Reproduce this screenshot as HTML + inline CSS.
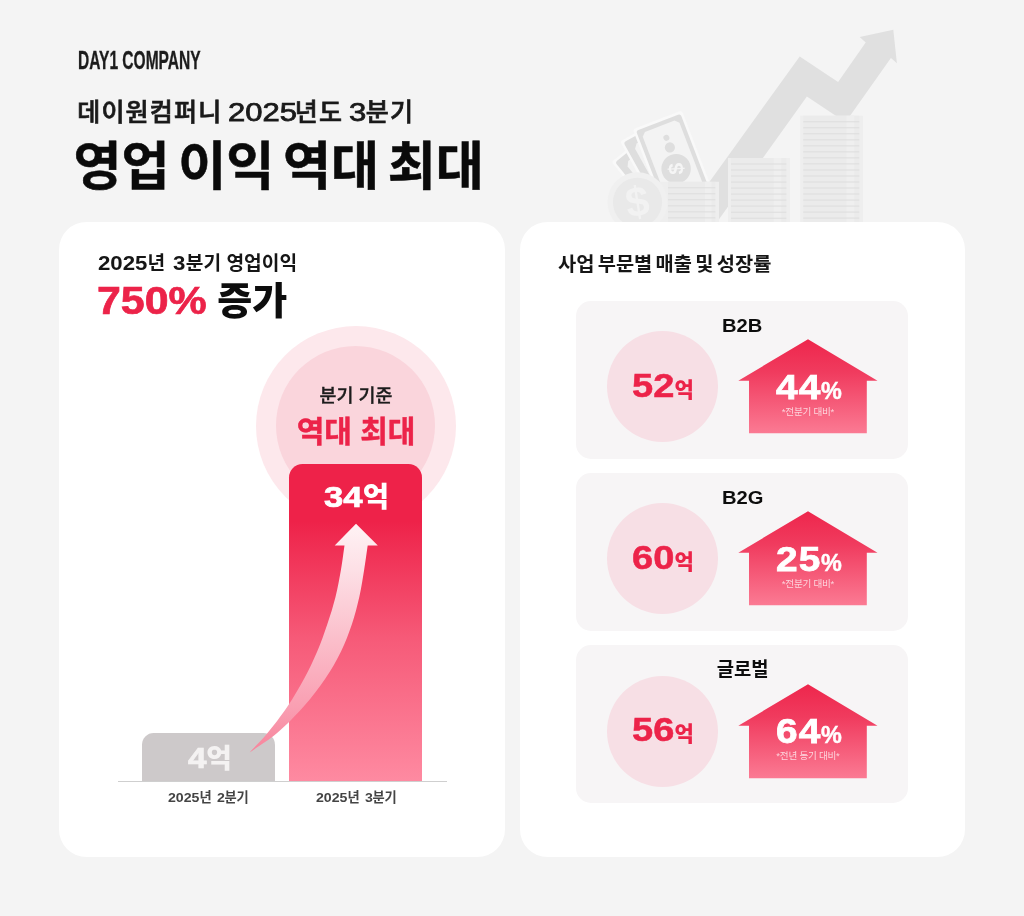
<!DOCTYPE html>
<html lang="ko">
<head>
<meta charset="utf-8">
<title>데이원컴퍼니 2025년도 3분기 영업 이익 역대 최대</title>
<style>
*{margin:0;padding:0;box-sizing:border-box}
html,body{width:1024px;height:916px;overflow:hidden;background:#f4f4f4}
body{position:relative;font-family:"Liberation Sans","Noto Sans CJK KR","NanumGothic",sans-serif;color:#111}
.abs{position:absolute;white-space:nowrap;line-height:1}
.n{display:inline-block;transform-origin:0 50%;line-height:1;letter-spacing:0}
.card{position:absolute;background:#fff;border-radius:27.5px}
.red{color:#ec2349}
#brand{left:77.8px;top:47.5px;font-size:25.2px;font-weight:700;transform-origin:0 0;transform:scaleX(.617);color:#1c1c1c;-webkit-text-stroke:.35px #1c1c1c}
#sub{left:77.2px;top:100px;font-size:25px;font-weight:500;color:#1a1a1a;letter-spacing:1.2px;-webkit-text-stroke:.7px #1a1a1a}
#title{left:73.5px;top:141px;font-size:52.2px;font-weight:700;color:#0a0a0a;letter-spacing:0;word-spacing:-5.8px;-webkit-text-stroke:.55px #0a0a0a}
#l1{left:98px;top:252.5px;font-size:19.2px;font-weight:700;color:#161616;letter-spacing:0}
#l2{left:97.5px;top:281px;font-size:38px;font-weight:900;color:#0d0d0d}
#l2 .n{font-weight:700}
#c-out{left:256px;top:326px;width:200px;height:200px;border-radius:50%;background:#fde8ec}
#c-in{left:276px;top:346px;width:159px;height:159px;border-radius:50%;background:#fad5dc}
#cq1{left:256px;width:200px;text-align:center;top:386.7px;font-size:18.4px;font-weight:500;color:#1c1c1c;-webkit-text-stroke:.35px #1c1c1c}
#cq2{left:256px;width:200px;text-align:center;top:416.5px;font-size:30px;font-weight:700;-webkit-text-stroke:.45px #ec2349}
#bar2{left:289.3px;top:464.3px;width:133.1px;height:316.5px;border-radius:13.5px 13.5px 0 0;background:linear-gradient(180deg,#ee2249 0%,#ee2249 18%,#f65a78 55%,#fe8aa1 100%)}
#bar1{left:141.8px;top:732.8px;width:133px;height:48px;border-radius:11.7px 11.7px 0 0;background:#cdc9ca}
#base{left:118px;top:780.6px;width:329px;height:1.2px;background:#cfcfcf}
#v2{left:290px;width:133px;text-align:center;top:481.5px;font-size:28.6px;font-weight:900;color:#fff}
#v1{left:143.3px;width:133px;text-align:center;top:744.3px;font-size:27.8px;font-weight:900;color:#f4f2f2}
.xl{top:790.8px;font-size:13.3px;font-weight:700;color:#444;width:133px;text-align:center}
#r1{left:558px;top:254.6px;font-size:19.8px;font-weight:700;color:#161616;word-spacing:-2.2px}
.sub{position:absolute;left:575.6px;width:332.6px;height:158.4px;border-radius:15px;background:#f7f5f6}
.sub .t{left:1px;width:332px;text-align:center;top:15.6px;font-size:18.8px;font-weight:700;color:#0d0d0d}
.sub .t b{display:inline-block;font-size:19.2px;transform:scaleX(1.05)}
.sub .circ{left:31.9px;top:30.7px;width:111px;height:111px;border-radius:50%;background:#f7dfe5}
.sub .amt{left:31.9px;width:111px;text-align:center;top:68px;font-size:21px;font-weight:900;color:#ec2349}
.sub svg{position:absolute;left:160.4px;top:35.6px}
.sub .pct{left:164.4px;width:138px;text-align:center;top:69.4px;font-size:23.4px;font-weight:700;color:#fff}
.sub .note{left:163.4px;width:138px;text-align:center;top:106px;font-size:9.6px;font-weight:400;color:rgba(255,255,255,.72);letter-spacing:-.25px}
</style>
</head>
<body>
<svg class="abs" style="left:590px;top:0" width="340" height="230" viewBox="590 0 340 230">
<polygon points="680.6,222 799.7,56.4 838.1,82 865.7,42.4 859.7,37.1 893.3,29.7 896.9,63.3 890.9,58 845.5,122.2 806.9,96.5 719.2,219 717,224 680,224" fill="#e0e0e0"/>
<g transform="translate(611.5,162) rotate(-39)"><rect x="0" y="0" width="52.7" height="92" rx="3" fill="#f9f9f9"/><rect x="2.6" y="2.6" width="47.5" height="88" rx="2.5" fill="#dedede"/><path d="M13.5,9.8H40.2L44,13.6V90H9.7V13.6Z" fill="#f3f3f3"/></g>
<g transform="translate(620,141.5) rotate(-29)"><rect x="0" y="0" width="52.7" height="92" rx="3" fill="#f9f9f9"/><rect x="2.6" y="2.6" width="47.5" height="88" rx="2.5" fill="#dedede"/><path d="M13.5,9.8H40.2L44,13.6V90H9.7V13.6Z" fill="#f3f3f3"/></g>
<g transform="translate(632.7,129.3) rotate(-21)"><rect x="0" y="0" width="52.7" height="92" rx="3" fill="#f9f9f9"/><rect x="2.6" y="2.6" width="47.5" height="88" rx="2.5" fill="#dedede"/><path d="M10.5,6.8H42.2L46,10.6V90H6.7V10.6Z" fill="#f3f3f3"/><circle cx="28.4" cy="20" r="3" fill="#dedede"/><circle cx="28.2" cy="30.3" r="5.1" fill="#dedede"/><circle cx="26.4" cy="52.4" r="14.7" fill="#dedede"/><text x="26.4" y="52.4" transform="rotate(-72 26.4 52.4)" font-family="Liberation Sans,sans-serif" font-weight="700" font-size="21" fill="#f5f5f5" text-anchor="middle" dy="7.2">$</text></g>
<rect x="655" y="181.8" width="64.0" height="42.2" fill="#eeeeee"/><rect x="668" y="181.8" width="47.4" height="42.2" fill="#ebebeb"/><rect x="705.0" y="181.8" width="6.5" height="42.2" fill="#efefef"/><path d="M668.0,187.8H715.4M668.0,193.8H715.4M668.0,199.8H715.4M668.0,205.9H715.4M668.0,211.9H715.4M668.0,217.9H715.4M668.0,223.9H715.4" stroke="#dddddd" stroke-width="1" fill="none"/>
<rect x="728" y="158" width="62.0" height="66.0" fill="#eeeeee"/><rect x="731" y="158" width="55.4" height="66.0" fill="#ebebeb"/><rect x="773.9" y="158" width="7.4" height="66.0" fill="#efefef"/><path d="M731.0,164.0H786.4M731.0,170.0H786.4M731.0,176.0H786.4M731.0,182.1H786.4M731.0,188.1H786.4M731.0,194.1H786.4M731.0,200.1H786.4M731.0,206.1H786.4M731.0,212.2H786.4M731.0,218.2H786.4" stroke="#dddddd" stroke-width="1" fill="none"/>
<rect x="800.2" y="115.7" width="62.7" height="108.3" fill="#eeeeee"/><rect x="803.2" y="115.7" width="56.1" height="108.3" fill="#ebebeb"/><rect x="846.6" y="115.7" width="7.5" height="108.3" fill="#efefef"/><path d="M803.2,121.8H859.3M803.2,127.8H859.3M803.2,133.8H859.3M803.2,139.9H859.3M803.2,145.9H859.3M803.2,151.9H859.3M803.2,157.9H859.3M803.2,163.9H859.3M803.2,170.0H859.3M803.2,176.0H859.3M803.2,182.0H859.3M803.2,188.0H859.3M803.2,194.0H859.3M803.2,200.1H859.3M803.2,206.1H859.3M803.2,212.1H859.3M803.2,218.1H859.3" stroke="#dddddd" stroke-width="1" fill="none"/>
<circle cx="637.5" cy="202.3" r="30" fill="#f0f0f0"/><circle cx="637.5" cy="202.3" r="24.6" fill="#e9e9e9"/>
<text x="637.5" y="202.3" transform="rotate(-9 637.5 202.3)" font-family="Liberation Sans,sans-serif" font-weight="700" font-size="42" fill="#f2f2f2" text-anchor="middle" dy="13.8">$</text>
</svg>
<div class="abs" id="brand">DAY1 COMPANY</div>
<div class="abs" id="sub">데이원컴퍼니 <span class="n" style="font-size:25px;transform:scaleX(1.24);margin-right:11.34px;margin-left:-2.8px;-webkit-text-stroke:.75px #1a1a1a">2025</span>년도 <span class="n" style="font-size:25px;transform:scaleX(1.24);margin-right:2.84px;margin-left:-2.3px;-webkit-text-stroke:.75px #1a1a1a">3</span>분기</div>
<div class="abs" id="title">영업 이익 역대 최대</div>

<div class="card" style="left:59.2px;top:222.2px;width:445.4px;height:634.4px"></div>
<div class="card" style="left:519.5px;top:222.2px;width:445.8px;height:634.4px"></div>

<div class="abs" id="l1"><span class="n" style="font-size:20.4px;transform:scaleX(1.09);margin-right:4.08px;">2025</span>년 <span class="n" style="font-size:20.4px;transform:scaleX(1.09);margin-right:1.02px;margin-left:3px">3</span>분기 영업이익</div>
<div class="abs" id="l2"><span class="red"><span class="n" style="font-size:39px;transform:scaleX(1.1);margin-right:10.17px;margin-left:-.6px;-webkit-text-stroke:.7px #ec2349">750%</span></span> 증가</div>
<div class="abs" id="c-out"></div>
<div class="abs" id="c-in"></div>
<div class="abs" id="cq1">분기 기준</div>
<div class="abs red" id="cq2">역대 최대</div>
<div class="abs" id="bar1"></div>
<div class="abs" id="bar2"></div>
<div class="abs" id="base"></div>
<div class="abs" id="v2"><span class="n" style="font-size:30.3px;transform:scaleX(1.145);margin-right:4.89px;font-weight:700;-webkit-text-stroke:.7px #fff">34</span>억</div>
<div class="abs" id="v1"><span class="n" style="font-size:29.2px;transform:scaleX(1.14);margin-right:2.27px;font-weight:700;-webkit-text-stroke:.7px #f4f2f2">4</span>억</div>
<svg class="abs" style="left:230px;top:510px" width="170" height="260" viewBox="230 510 170 260"><defs><linearGradient id="ga" gradientUnits="userSpaceOnUse" x1="0" y1="753" x2="0" y2="523"><stop offset="0" stop-color="#f7849b"/><stop offset=".2" stop-color="#f99fb2"/><stop offset=".5" stop-color="#fbbfcb"/><stop offset=".8" stop-color="#fde0e6"/><stop offset="1" stop-color="#fff3f5"/></linearGradient></defs>
<path d="M249.6,752.4 C252.6,749.2 260.9,741.0 267.3,733.3 C273.7,725.6 281.7,715.1 287.8,706.0 C293.9,696.9 299.2,687.9 304.1,678.8 C309.0,669.7 313.3,660.6 317.2,651.5 C321.1,642.4 324.2,633.3 327.3,624.2 C330.4,615.1 333.2,606.0 335.5,596.9 C337.8,587.8 339.5,578.1 341.0,569.6 C342.5,561.1 343.9,549.6 344.5,545.6 L334.7,545.6 L356,523.7 L377.8,545.6 L367.7,545.6 C367.1,549.6 365.6,561.1 364.2,569.6 C362.8,578.1 361.4,587.8 359.3,596.9 C357.2,606.0 354.9,615.1 351.9,624.2 C348.8,633.3 345.4,642.4 341.0,651.5 C336.6,660.6 331.3,669.7 325.2,678.8 C319.1,687.9 312.2,696.9 304.1,706.0 C296.0,715.1 285.9,725.6 276.8,733.3 C267.7,741.0 254.1,749.2 249.6,752.4 Z" fill="url(#ga)"/></svg>
<div class="abs xl" style="left:142px"><span class="n" style="font-size:13.6px;transform:scaleX(1.04);margin-right:1.21px;">2025</span>년 <span class="n" style="font-size:13.6px;transform:scaleX(1.04);margin-right:0.30px;margin-left:1px">2</span>분기</div>
<div class="abs xl" style="left:290px"><span class="n" style="font-size:13.6px;transform:scaleX(1.04);margin-right:1.21px;">2025</span>년 <span class="n" style="font-size:13.6px;transform:scaleX(1.04);margin-right:0.30px;margin-left:1px">3</span>분기</div>

<div class="abs" id="r1">사업 부문별 매출 및 성장률</div>
<div class="sub" style="top:300.5px">
<div class="abs t"><b>B2B</b></div>
<div class="abs circ"></div>
<div class="abs amt"><span class="n" style="font-size:33.4px;transform:scaleX(1.14);margin-right:5.20px;font-weight:700;-webkit-text-stroke:.5px #ec2349">52</span>억</div>
<svg width="144" height="98" viewBox="0 0 144 98"><defs><linearGradient id="g1" x1="0" y1="0" x2="0" y2="1"><stop offset="0" stop-color="#ee264c"/><stop offset=".35" stop-color="#f03b5e"/><stop offset="1" stop-color="#fb7a93"/></linearGradient></defs><polygon points="72,3.2 141.5,44.7 130.8,44.7 130.8,97.2 13,97.2 13,44.7 2.3,44.7" fill="url(#g1)"/></svg>
<div class="abs pct"><span class="n" style="font-size:34.4px;transform:scaleX(1.13);margin-right:4.67px;-webkit-text-stroke:.75px #fff;letter-spacing:.9px">44</span><span style="-webkit-text-stroke:.45px #fff">%</span></div>
<div class="abs note">*전분기 대비*</div>
</div>
<div class="sub" style="top:472.8px">
<div class="abs t"><b>B2G</b></div>
<div class="abs circ"></div>
<div class="abs amt"><span class="n" style="font-size:33.4px;transform:scaleX(1.14);margin-right:5.20px;font-weight:700;-webkit-text-stroke:.5px #ec2349">60</span>억</div>
<svg width="144" height="98" viewBox="0 0 144 98"><defs><linearGradient id="g2" x1="0" y1="0" x2="0" y2="1"><stop offset="0" stop-color="#ee264c"/><stop offset=".35" stop-color="#f03b5e"/><stop offset="1" stop-color="#fb7a93"/></linearGradient></defs><polygon points="72,3.2 141.5,44.7 130.8,44.7 130.8,97.2 13,97.2 13,44.7 2.3,44.7" fill="url(#g2)"/></svg>
<div class="abs pct"><span class="n" style="font-size:34.4px;transform:scaleX(1.13);margin-right:4.67px;-webkit-text-stroke:.75px #fff;letter-spacing:.9px">25</span><span style="-webkit-text-stroke:.45px #fff">%</span></div>
<div class="abs note">*전분기 대비*</div>
</div>
<div class="sub" style="top:645px">
<div class="abs t">글로벌</div>
<div class="abs circ"></div>
<div class="abs amt"><span class="n" style="font-size:33.4px;transform:scaleX(1.14);margin-right:5.20px;font-weight:700;-webkit-text-stroke:.5px #ec2349">56</span>억</div>
<svg width="144" height="98" viewBox="0 0 144 98"><defs><linearGradient id="g3" x1="0" y1="0" x2="0" y2="1"><stop offset="0" stop-color="#ee264c"/><stop offset=".35" stop-color="#f03b5e"/><stop offset="1" stop-color="#fb7a93"/></linearGradient></defs><polygon points="72,3.2 141.5,44.7 130.8,44.7 130.8,97.2 13,97.2 13,44.7 2.3,44.7" fill="url(#g3)"/></svg>
<div class="abs pct"><span class="n" style="font-size:34.4px;transform:scaleX(1.13);margin-right:4.67px;-webkit-text-stroke:.75px #fff;letter-spacing:.9px">64</span><span style="-webkit-text-stroke:.45px #fff">%</span></div>
<div class="abs note">*전년 동기 대비*</div>
</div>

</body>
</html>
